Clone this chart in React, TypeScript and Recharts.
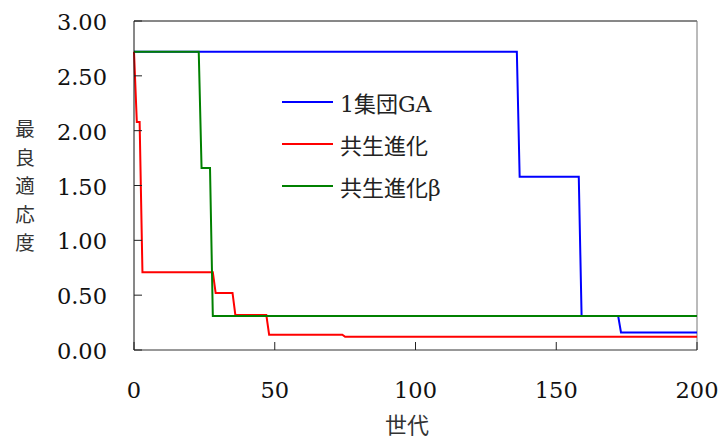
import { LineChart, Line, XAxis, YAxis, ReferenceLine, Legend } from "recharts";

// Step-wise best fitness per generation (only the generations where a value changes)
const gaGen = [0, 136, 137, 158, 159, 172, 173, 200];
const gaFit = [2.72, 2.72, 1.58, 1.58, 0.31, 0.31, 0.16, 0.16];

const coevoGen = [0, 1, 2, 3, 28, 29, 35, 36, 47, 48, 74, 75, 200];
const coevoFit = [2.72, 2.08, 2.08, 0.71, 0.71, 0.52, 0.52, 0.32, 0.32, 0.14, 0.14, 0.12, 0.12];

const coevoBGen = [0, 23, 24, 27, 28, 200];
const coevoBFit = [2.72, 2.72, 1.66, 1.66, 0.31, 0.31];

const xTicks = [0, 50, 100, 150, 200];
const yTicks = [0, 0.5, 1, 1.5, 2, 2.5, 3];

const seriesNames = ["1集団GA", "共生進化", "共生進化β"];
const seriesColors = ["#0000ff", "#ff0000", "#008000"];

const toPoints = (gens: number[], fits: number[]) =>
  gens.map((g, i) => ({ gen: g, fit: fits[i] }));

const NUM_FONT = "DejaVu Serif, Liberation Serif, serif";
const JP_FONT = "Noto Sans CJK JP, Noto Sans CJK SC, sans-serif";
// Latin glyphs in serif, kanji from the CJK font
const MIXED_FONT = "DejaVu Serif, Noto Sans CJK JP, serif";
const numStyle = { fontFamily: NUM_FONT, fontSize: 22.5 };
const jpStyle = { fontFamily: JP_FONT, fontSize: 22 };

function YTick(props: any) {
  const { x, y, payload } = props;
  return (
    <g>
      <line x1={x} y1={y} x2={x + 8} y2={y} stroke="#222" strokeWidth={1} />
      <text x={x - 27} y={y + 9} textAnchor="end" style={numStyle} fill="#111">
        {payload.value.toFixed(2)}
      </text>
    </g>
  );
}

function XTick(props: any) {
  const { x, y, payload } = props;
  return (
    <g>
      <line x1={x} y1={y} x2={x} y2={y - 8} stroke="#222" strokeWidth={1} />
      <text x={x} y={y + 48} textAnchor="middle" style={numStyle} fill="#111">
        {payload.value}
      </text>
    </g>
  );
}

// y-axis title, one upright character per row
function VerticalTitle() {
  const chars = Array.from("最良適応度");
  return (
    <g>
      {chars.map((c, i) => (
        <text
          key={i}
          x={25}
          y={136 + i * 28.5}
          textAnchor="middle"
          style={{ fontFamily: JP_FONT, fontSize: 19.5 }}
          fill="#333"
        >
          {c}
        </text>
      ))}
    </g>
  );
}

function XTitle() {
  return (
    <text x={407} y={433} textAnchor="middle" style={jpStyle} fill="#333">
      世代
    </text>
  );
}

function LegendBox({ payload }: any) {
  return (
    <div style={{ fontFamily: MIXED_FONT, fontSize: 22, color: "#222" }}>
      {(payload || []).map((entry: any, i: number) => (
        <div key={i} style={{ display: "flex", alignItems: "center", height: 42 }}>
          <span style={{ width: 51, height: 2, background: entry.color, marginRight: 7 }} />
          <span>{entry.value}</span>
        </div>
      ))}
    </div>
  );
}

export default function App() {
  const series = [
    toPoints(gaGen, gaFit),
    toPoints(coevoGen, coevoFit),
    toPoints(coevoBGen, coevoBFit),
  ];
  return (
    <div style={{ position: "absolute", left: 0, top: 0, width: 721, height: 443, background: "#fff" }}>
      <LineChart width={721} height={443} margin={{ top: 21, right: 24, left: 0, bottom: 0 }}>
        <XAxis
          type="number"
          dataKey="gen"
          domain={[0, 200]}
          ticks={xTicks}
          height={93}
          tickLine={false}
          tickSize={0}
          tickMargin={0}
          tick={<XTick />}
          stroke="#333"
          allowDuplicatedCategory={false}
          label={{ content: () => <XTitle /> }}
        />
        <YAxis
          type="number"
          domain={[0, 3]}
          ticks={yTicks}
          width={134}
          tickLine={false}
          tickSize={0}
          tickMargin={0}
          tick={<YTick />}
          stroke="#111"
          label={{ content: () => <VerticalTitle /> }}
        />
        <ReferenceLine y={3} stroke="#111" />
        <ReferenceLine x={200} stroke="#777" />
        <Legend
          layout="vertical"
          verticalAlign="middle"
          align="center"
          content={<LegendBox />}
          wrapperStyle={{ left: 282, top: 81, width: 200 }}
        />
        {series.map((pts, i) => (
          <Line
            key={seriesNames[i]}
            data={pts}
            dataKey="fit"
            name={seriesNames[i]}
            type="linear"
            stroke={seriesColors[i]}
            strokeWidth={2}
            dot={false}
            isAnimationActive={false}
          />
        ))}
      </LineChart>
    </div>
  );
}
